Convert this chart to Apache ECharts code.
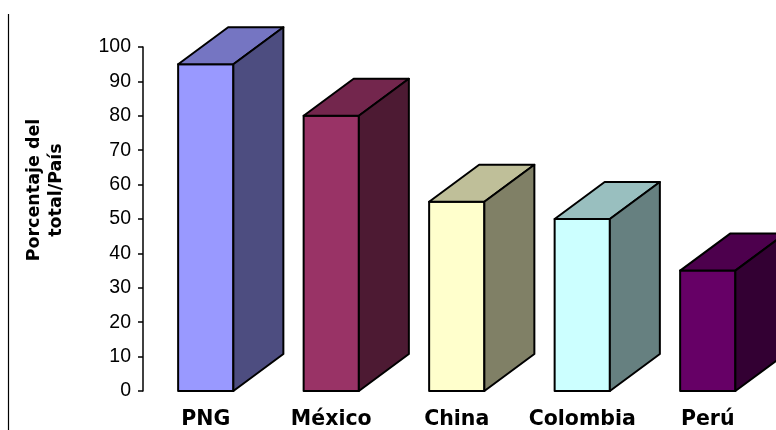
<!DOCTYPE html>
<html>
<head>
<meta charset="utf-8">
<script src="https://cdn.jsdelivr.net/npm/echarts@6/dist/echarts.min.js"></script>
<style>
  html, body { margin: 0; padding: 0; background: #ffffff; }
  #chart { width: 776px; height: 430px; }
</style>
</head>
<body>
<div id="chart"></div>
<script>
// Countries and their share of the total
const categories = ['PNG', 'México', 'China', 'Colombia', 'Perú'];
const values = [95, 80, 55, 50, 35];
const yTicks = [0, 10, 20, 30, 40, 50, 60, 70, 80, 90, 100];

// Face colours per bar: front, top, side
const frontColors = ['#9999FF', '#993366', '#FFFFCC', '#CCFFFF', '#660066'];
const topColors   = ['#7575C2', '#73264D', '#BFBF99', '#99BFBF', '#4D004D'];
const sideColors  = ['#4D4D80', '#4D1A33', '#808066', '#668080', '#330033'];

// Extrusion of each box (pixels)
const DEPTH_X = 50;
const DEPTH_Y = -37;
const BAR_RATIO = 0.44;

const chart = echarts.init(document.getElementById('chart'), null, { renderer: 'canvas' });

function renderBox(params, api) {
  const idx = params.dataIndex;
  const topPt = api.coord([api.value(0), api.value(1)]);
  const basePt = api.coord([api.value(0), 0]);
  const w = api.size([1, 0])[0] * BAR_RATIO;
  const l = topPt[0] - w / 2, r = topPt[0] + w / 2;
  const t = topPt[1], b = basePt[1];
  const stroke = { stroke: '#000000', lineWidth: 2, lineJoin: 'round' };
  return {
    type: 'group',
    children: [
      {
        type: 'polygon',
        shape: { points: [[l, t], [r, t], [r, b], [l, b]] },
        style: Object.assign({ fill: frontColors[idx] }, stroke)
      },
      {
        type: 'polygon',
        shape: { points: [[l, t], [l + DEPTH_X, t + DEPTH_Y], [r + DEPTH_X, t + DEPTH_Y], [r, t]] },
        style: Object.assign({ fill: topColors[idx] }, stroke)
      },
      {
        type: 'polygon',
        shape: { points: [[r, t], [r + DEPTH_X, t + DEPTH_Y], [r + DEPTH_X, b + DEPTH_Y], [r, b]] },
        style: Object.assign({ fill: sideColors[idx] }, stroke)
      }
    ]
  };
}

const option = {
  animation: false,
  backgroundColor: '#ffffff',
  grid: { left: 143, right: 5.5, top: 47, bottom: 38, containLabel: false },
  xAxis: {
    type: 'category',
    data: categories,
    axisLine: { show: false },
    axisTick: { show: false },
    axisLabel: {
      interval: 0,
      hideOverlap: false,
      margin: 18,
      color: '#000000',
      fontFamily: 'DejaVu Sans',
      fontWeight: 'bold',
      fontSize: 20.5
    },
    splitLine: { show: false }
  },
  yAxis: {
    type: 'value',
    min: yTicks[0],
    max: yTicks[yTicks.length - 1],
    interval: yTicks[1] - yTicks[0],
    axisLine: { show: true, lineStyle: { color: '#000000', width: 1.5 } },
    axisTick: { show: true, inside: false, length: 5, lineStyle: { color: '#000000', width: 1.5 } },
    axisLabel: {
      margin: 12,
      color: '#000000',
      fontFamily: 'Liberation Sans',
      fontSize: 19.5
    },
    splitLine: { show: false }
  },
  graphic: [
    {
      type: 'line',
      shape: { x1: 8.5, y1: 14, x2: 8.5, y2: 430 },
      style: { stroke: '#000000', lineWidth: 1.2 }
    },
    {
      type: 'text',
      x: 45,
      y: 190,
      rotation: Math.PI / 2,
      style: {
        text: 'Porcentaje del\ntotal/País',
        fill: '#000000',
        fontFamily: 'DejaVu Sans',
        fontWeight: 'bold',
        fontSize: 17.5,
        align: 'center',
        verticalAlign: 'middle',
        lineHeight: 22
      }
    }
  ],
  series: [
    {
      type: 'custom',
      renderItem: renderBox,
      encode: { x: 0, y: 1 },
      data: categories.map((c, i) => [i, values[i]]),
      clip: false
    }
  ]
};

chart.setOption(option);
</script>
</body>
</html>
